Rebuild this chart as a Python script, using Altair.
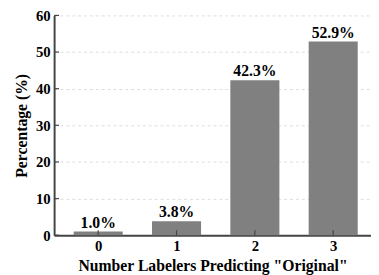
import altair as alt
import pandas as pd

categories = [0, 1, 2, 3]
values = [1.0, 3.8, 42.3, 52.9]
labels = ["1.0%", "3.8%", "42.3%", "52.9%"]
y_ticks = [0, 10, 20, 30, 40, 50, 60]

df = pd.DataFrame({"n": categories, "pct": values, "label": labels})
ticks_df = pd.DataFrame({"t": y_ticks})

FONT = "Times New Roman, Liberation Serif, serif"
AFONT = "serif"
W, H = 323, 224
xscale = alt.Scale(domain=[-0.5, 3.42], nice=False, zero=False)
yscale = alt.Scale(domain=[0, 60], nice=False)

common = dict(labelFont=AFONT, labelFontWeight="bold", labelFontSize=15, labelColor="black",
              titleFont=AFONT, titleFontWeight="bold", titleFontSize=16, titleColor="black",
              ticks=False, labelOverlap=False, domainColor="#444444", domainWidth=2)
xaxis = alt.Axis(values=categories, format="d", title='Number Labelers Predicting "Original"',
                 grid=False, labelPadding=4, titlePadding=4, **common)
yaxis = alt.Axis(values=y_ticks, title="Percentage (%)", grid=True,
                 gridDash=[3, 3], gridColor="#dddddd", gridWidth=1,
                 labelPadding=4, titlePadding=6, **common)

bars = alt.Chart(df).mark_bar(size=50, color="#808080").encode(
    x=alt.X("n:Q", scale=xscale, axis=xaxis),
    y=alt.Y("pct:Q", scale=yscale, axis=yaxis),
)

text = alt.Chart(df).mark_text(baseline="bottom", dy=-1, font=FONT, fontWeight="bold",
                               fontSize=16, color="black").encode(
    x=alt.X("n:Q", scale=xscale, axis=xaxis),
    y=alt.Y("pct:Q", scale=yscale, axis=yaxis),
    text="label:N",
)

xticks = alt.Chart(df).mark_rule(color="#444444", strokeWidth=1.2).encode(
    x=alt.X("n:Q", scale=xscale, axis=xaxis),
    y=alt.value(H - 5),
    y2=alt.value(H),
)

yticks = alt.Chart(ticks_df).mark_rule(color="#444444", strokeWidth=1.2).encode(
    y=alt.Y("t:Q", scale=yscale, axis=yaxis),
    x=alt.value(0),
    x2=alt.value(5),
)

chart = alt.layer(bars, xticks, yticks, text).properties(
    width=W, height=H,
    autosize=alt.AutoSizeParams(type="none"),
    padding={"left": 47, "top": 5, "right": 0, "bottom": 38},
).configure_view(stroke=None)

chart.save("out.html", embed_options={"renderer": "svg", "actions": False})
